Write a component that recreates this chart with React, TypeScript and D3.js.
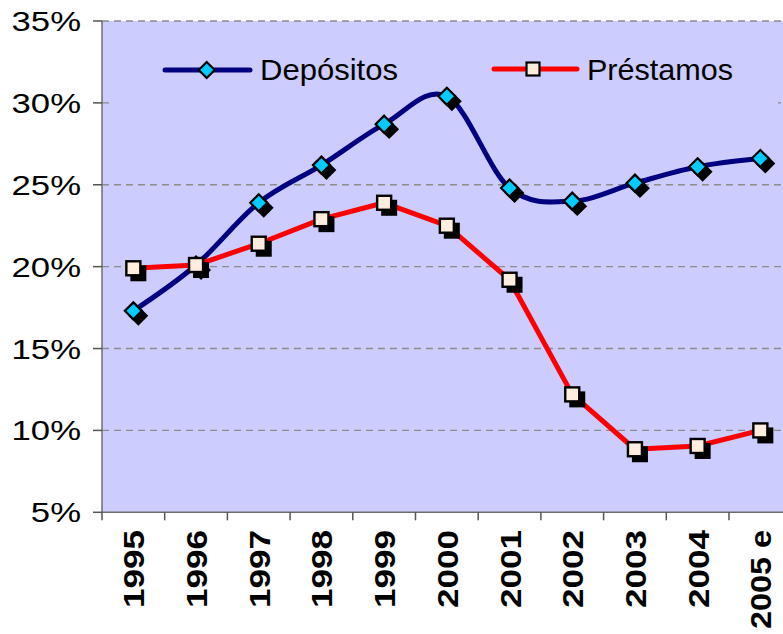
import React from "react";
import * as d3 from "d3";

const categories = ["1995", "1996", "1997", "1998", "1999", "2000", "2001", "2002", "2003", "2004", "2005 e"];
const depositos = [17.3, 20.1, 23.9, 26.2, 28.7, 30.4, 24.8, 24.0, 25.1, 26.1, 26.6];
const prestamos = [19.9, 20.1, 21.4, 22.9, 23.9, 22.5, 19.2, 12.2, 8.85, 9.05, 10.0];
const yTicks = [5, 10, 15, 20, 25, 30, 35];
const seriesNames = ["Depósitos", "Préstamos"];

const W = 783;
const H = 634;
const left = 102;
const top = 21;
const bottom = 512.3;
const step = 62.7;
const right = left + step * categories.length;

const PLOT_BG = "#CCCCFF";
const BLUE = "#000080";
const CYAN = "#00CCFF";
const RED = "#FF0000";
const CREAM = "#FFEEDD";
const FONT = "'Liberation Sans', Arial, sans-serif";

export default function App() {
  const x = d3.scaleBand<string>().domain(categories).range([left, right]).padding(0);
  const y = d3.scaleLinear().domain([5, 35]).range([bottom, top]);
  const cx = (c: string) => (x(c) as number) + x.bandwidth() / 2;

  const smoothLine = d3
    .line<number>()
    .x((_, i) => cx(categories[i]))
    .y((d) => y(d))
    .curve(d3.curveCatmullRom.alpha(0));

  const straightLine = d3
    .line<number>()
    .x((_, i) => cx(categories[i]))
    .y((d) => y(d))
    .curve(d3.curveLinear);

  const diamond = (px: number, py: number, r: number) =>
    `M${px},${py - r}L${px + r},${py}L${px},${py + r}L${px - r},${py}Z`;

  const sq = 14;
  const dr = 8.5;
  const sh = 5;

  return (
    <svg
      width={W}
      height={H}
      style={{ position: "absolute", left: 0, top: 0, overflow: "hidden", background: "#fff" }}
    >
      <rect x={left} y={top} width={right - left} height={bottom - top} fill={PLOT_BG} />
      {yTicks.map((t) =>
        t === 5 ? null : (
          <line
            key={"g" + t}
            x1={left}
            x2={right}
            y1={y(t)}
            y2={y(t)}
            stroke="#8c8c8c"
            strokeWidth={1.4}
            strokeDasharray="7,5"
          />
        )
      )}
      {/* legend box (covers gridline) */}
      <rect x={110} y={36} width={668} height={70} fill={PLOT_BG} />
      {/* axes */}
      <line x1={left} x2={left} y1={top} y2={bottom} stroke="#6e6e6e" strokeWidth={1.5} />
      <line x1={left} x2={right} y1={bottom} y2={bottom} stroke="#6e6e6e" strokeWidth={1.5} />
      {yTicks.map((t) => (
        <line key={"yt" + t} x1={left - 9} x2={left} y1={y(t)} y2={y(t)} stroke="#555" strokeWidth={1.5} />
      ))}
      {d3.range(categories.length + 1).map((i) => (
        <line
          key={"xt" + i}
          x1={left + i * step}
          x2={left + i * step}
          y1={bottom}
          y2={bottom + 8}
          stroke="#555"
          strokeWidth={1.5}
        />
      ))}
      {yTicks.map((t) => (
        <text
          key={"yl" + t}
          transform={`translate(81,${y(t) + 10}) scale(1.24,1)`}
          textAnchor="end"
          fontFamily={FONT}
          fontSize={28}
          fill="#000"
        >
          {t + "%"}
        </text>
      ))}
      {categories.map((c) => (
        <text
          key={"xl" + c}
          transform={`translate(${cx(c) + 11},530) rotate(-90) scale(${c.length > 4 ? 1.08 : 1.17},1)`}
          textAnchor="end"
          fontFamily={FONT}
          fontWeight="bold"
          fontSize={30}
          fill="#000"
        >
          {c}
        </text>
      ))}

      {/* Depósitos */}
      <path d={smoothLine(depositos) || ""} fill="none" stroke={BLUE} strokeWidth={5} strokeLinecap="round" />
      {depositos.map((v, i) => (
        <path key={"ds" + i} d={diamond(cx(categories[i]) + sh, y(v) + sh, dr)} fill="#000" stroke="#000" strokeWidth={2} />
      ))}
      {depositos.map((v, i) => (
        <path key={"dm" + i} d={diamond(cx(categories[i]), y(v), dr)} fill={CYAN} stroke="#000" strokeWidth={2.2} />
      ))}

      {/* Préstamos */}
      <path d={straightLine(prestamos) || ""} fill="none" stroke={RED} strokeWidth={5} strokeLinecap="round" strokeLinejoin="round" />
      {prestamos.map((v, i) => (
        <rect
          key={"ps" + i}
          x={cx(categories[i]) - sq / 2 + sh}
          y={y(v) - sq / 2 + sh}
          width={sq}
          height={sq}
          fill="#000"
          stroke="#000"
          strokeWidth={2}
        />
      ))}
      {prestamos.map((v, i) => (
        <rect
          key={"pm" + i}
          x={cx(categories[i]) - sq / 2}
          y={y(v) - sq / 2}
          width={sq}
          height={sq}
          fill={CREAM}
          stroke="#000"
          strokeWidth={2.4}
        />
      ))}

      {/* legend */}
      <line x1={165} x2={250} y1={70} y2={70} stroke={BLUE} strokeWidth={5} strokeLinecap="round" />
      <path d={diamond(206.7, 70, 8)} fill={CYAN} stroke="#000" strokeWidth={2.2} />
      <text x={260} y={80} fontFamily={FONT} fontSize={29} textLength={138} lengthAdjust="spacingAndGlyphs">
        {seriesNames[0]}
      </text>
      <line x1={494} x2={577} y1={69} y2={69} stroke={RED} strokeWidth={5} strokeLinecap="round" />
      <rect x={533 - 6.5} y={69 - 6.5} width={13} height={13} fill={CREAM} stroke="#000" strokeWidth={2.2} />
      <text x={587} y={80} fontFamily={FONT} fontSize={29} textLength={146} lengthAdjust="spacingAndGlyphs">
        {seriesNames[1]}
      </text>
    </svg>
  );
}
